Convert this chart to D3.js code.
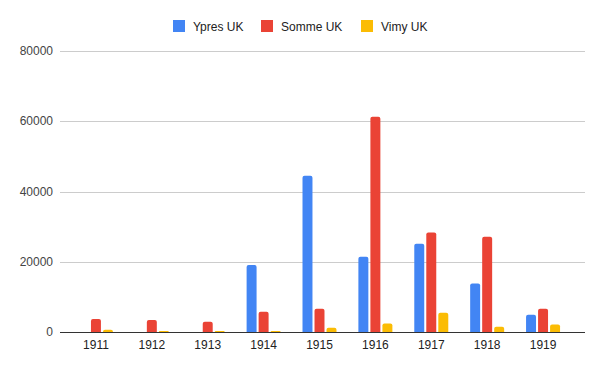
<!DOCTYPE html>
<html>
<head>
<meta charset="utf-8">
<script src="https://cdn.jsdelivr.net/npm/d3@7"></script>
<style>
  body { margin: 0; background: #fff; }
  text { font-family: Arial, "Liberation Sans", sans-serif; }
</style>
</head>
<body>
<div id="chart-area"></div>
<script>
// Data
var years = ["1911", "1912", "1913", "1914", "1915", "1916", "1917", "1918", "1919"];
var seriesNames = ["Ypres UK", "Somme UK", "Vimy UK"];
var ypres = [0, 0, 0, 19100, 44500, 21400, 25100, 13800, 4900];
var somme = [3700, 3400, 2900, 5800, 6600, 61300, 28300, 27100, 6600];
var vimy = [650, 300, 300, 300, 1200, 2400, 5500, 1500, 2100];
var yTicks = [0, 20000, 40000, 60000, 80000];
var colors = ["#4285F4", "#EA4335", "#FBBC04"];

var width = 600, height = 371;

var svg = d3.select("#chart-area").append("svg")
    .attr("width", width)
    .attr("height", height);

// Scales
var x_scale = d3.scaleBand()
    .domain(years)
    .range([68, 571]);
var inner = d3.scaleBand()
    .domain(seriesNames)
    .range([0, 34])
    .paddingInner(0.17);
var y_scale = d3.scaleLinear()
    .domain([0, 80000])
    .range([332, 51]);

// Gridlines
svg.append("g")
    .selectAll("line")
    .data(yTicks.slice(1))
    .enter().append("line")
    .attr("x1", 60)
    .attr("x2", 585)
    .attr("y1", function(d) { return Math.round(y_scale(d)) + 0.5; })
    .attr("y2", function(d) { return Math.round(y_scale(d)) + 0.5; })
    .attr("stroke", "#cccccc");

// Y labels
svg.append("g")
    .selectAll("text")
    .data(yTicks)
    .enter().append("text")
    .attr("x", 53)
    .attr("y", function(d) { return y_scale(d) + 4; })
    .attr("text-anchor", "end")
    .attr("font-size", "12px")
    .attr("fill", "#444")
    .text(function(d) { return d; });

// Bars
var series = [ypres, somme, vimy];
function topRounded(x, y, w, h, r) {
    if (h <= 0) return "";
    r = Math.min(r, h, w / 2);
    return "M" + x + "," + (y + h) +
        "V" + (y + r) +
        "Q" + x + "," + y + " " + (x + r) + "," + y +
        "H" + (x + w - r) +
        "Q" + (x + w) + "," + y + " " + (x + w) + "," + (y + r) +
        "V" + (y + h) + "Z";
}
var groups = svg.append("g")
    .selectAll("g")
    .data(years)
    .enter().append("g")
    .attr("transform", function(d) {
        return "translate(" + (x_scale(d) + x_scale.bandwidth() / 2 - 17) + ",0)";
    });

groups.selectAll("path")
    .data(function(d, i) {
        return seriesNames.map(function(s, j) { return { name: s, value: series[j][i], c: colors[j] }; });
    })
    .enter().append("path")
    .attr("fill", function(d) { return d.c; })
    .attr("d", function(d) {
        var y = y_scale(d.value);
        return topRounded(inner(d.name), y, inner.bandwidth(), y_scale(0) - y, 2);
    });

// X axis line
svg.append("line")
    .attr("x1", 60)
    .attr("x2", 585)
    .attr("y1", 332.5)
    .attr("y2", 332.5)
    .attr("stroke", "#333")
    .attr("stroke-width", 1);

// X labels
svg.append("g")
    .selectAll("text")
    .data(years)
    .enter().append("text")
    .attr("x", function(d) { return x_scale(d) + x_scale.bandwidth() / 2; })
    .attr("y", 349)
    .attr("text-anchor", "middle")
    .attr("font-size", "12px")
    .attr("fill", "#222")
    .text(function(d) { return d; });

// Legend
var legendX = [173, 261, 361];
var legend = svg.append("g")
    .selectAll("g")
    .data(seriesNames)
    .enter().append("g")
    .attr("transform", function(d, i) { return "translate(" + legendX[i] + ",20)"; });
legend.append("rect")
    .attr("width", 12)
    .attr("height", 12)
    .attr("fill", function(d, i) { return colors[i]; });
legend.append("text")
    .attr("x", 20)
    .attr("y", 10.5)
    .attr("font-size", "12px")
    .attr("fill", "#222")
    .text(function(d) { return d; });
</script>
</body>
</html>
